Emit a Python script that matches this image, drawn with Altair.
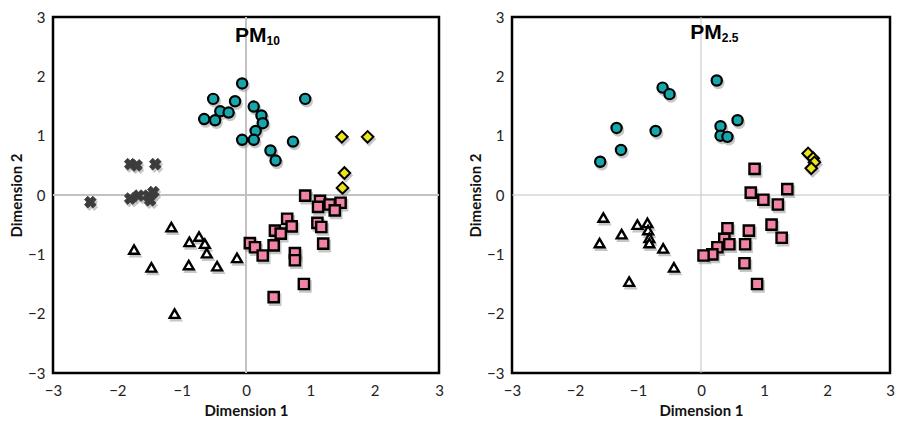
import altair as alt
import pandas as pd

# ---------------- PM10 panel ----------------
pm10_circ_x = [-0.06, -0.51, -0.17, -0.40, -0.27, -0.65, -0.48, 0.12, 0.24, 0.26, 0.15, -0.06, 0.12, 0.38, 0.46, 0.73, 0.92]
pm10_circ_y = [1.88, 1.62, 1.58, 1.41, 1.39, 1.28, 1.26, 1.49, 1.34, 1.21, 1.08, 0.93, 0.93, 0.75, 0.58, 0.90, 1.62]
pm10_diam_x = [1.49, 1.89, 1.53, 1.50]
pm10_diam_y = [0.98, 0.98, 0.37, 0.12]
pm10_cross_x = [-1.80, -1.70, -1.41, -2.42, -1.80, -1.67, -1.52, -1.44, -1.49]
pm10_cross_y = [0.52, 0.50, 0.52, -0.12, -0.06, -0.01, -0.01, 0.05, -0.09]
pm10_tri_x = [-1.16, -1.74, -1.47, -0.88, -0.73, -0.64, -0.61, -0.89, -0.45, -0.14, -1.11]
pm10_tri_y = [-0.54, -0.92, -1.22, -0.79, -0.70, -0.82, -0.98, -1.18, -1.20, -1.06, -2.00]
pm10_sq_x = [0.92, 1.15, 1.30, 1.47, 1.38, 1.12, 1.11, 1.17, 0.64, 0.71, 0.45, 0.54, 0.06, 0.14, 0.26, 0.43, 0.76, 0.76, 1.20, 0.90, 0.43]
pm10_sq_y = [-0.01, -0.10, -0.16, -0.13, -0.26, -0.20, -0.47, -0.54, -0.40, -0.53, -0.60, -0.65, -0.81, -0.88, -1.02, -0.85, -0.98, -1.10, -0.82, -1.50, -1.72]

# ---------------- PM2.5 panel ----------------
pm25_circ_x = [0.25, -0.61, -0.50, -1.34, -0.72, -1.27, -1.60, 0.58, 0.31, 0.31, 0.42]
pm25_circ_y = [1.93, 1.81, 1.70, 1.13, 1.08, 0.76, 0.56, 1.26, 1.16, 1.00, 0.98]
pm25_diam_x = [1.70, 1.78, 1.80, 1.75]
pm25_diam_y = [0.70, 0.62, 0.55, 0.45]
pm25_sq_x = [0.85, 0.79, 0.99, 1.37, 1.22, 1.12, 1.28, 0.42, 0.76, 0.37, 0.45, 0.70, 0.26, 0.18, 0.04, 0.69, 0.89]
pm25_sq_y = [0.44, 0.04, -0.08, 0.10, -0.16, -0.50, -0.72, -0.56, -0.60, -0.74, -0.83, -0.83, -0.88, -1.00, -1.02, -1.15, -1.50]
pm25_tri_x = [-1.55, -1.61, -1.26, -1.01, -0.85, -0.84, -0.82, -0.82, -0.60, -0.43, -1.14]
pm25_tri_y = [-0.38, -0.81, -0.66, -0.50, -0.47, -0.59, -0.72, -0.81, -0.90, -1.22, -1.46]
pm25_cross_x = []
pm25_cross_y = []

tick_values = [-3, -2, -1, 0, 1, 2, 3]

FONT = "Lato"
TEAL = "#17a7ab"
YELLOW = "#ebe51c"
PINK = "#f183a3"
CROSS = "#3c3c3c"


def df(xs, ys):
    return pd.DataFrame({"x": xs, "y": ys})


def panel(groups, main, sub, split_x, base_y, w, h, zero_w):
    xs = alt.Scale(domain=[-3, 3], nice=False, zero=False)
    ys = alt.Scale(domain=[-3, 3], nice=False, zero=False)
    xax = alt.Axis(values=tick_values, title="Dimension 1", grid=False, ticks=False,
                   domain=False, labelFlush=False, labelPadding=10, titlePadding=5,
                   labelFontSize=15, titleFontSize=15, labelFont=FONT, titleFont=FONT,
                   labelColor="#222", titleColor="#111", titleFontWeight="bold")
    yax = alt.Axis(values=tick_values, title="Dimension 2", grid=False, ticks=False,
                   domain=False, labelFlush=False, labelPadding=8, titlePadding=3,
                   labelFontSize=15, titleFontSize=15, labelFont=FONT, titleFont=FONT,
                   labelColor="#222", titleColor="#111", titleFontWeight="bold")
    X = alt.X("x:Q", scale=xs, axis=xax)
    Y = alt.Y("y:Q", scale=ys, axis=yax)

    zero = pd.DataFrame({"x": [0], "y": [0]})
    layers = [
        alt.Chart(zero).mark_rule(color="#c2c2c2", strokeWidth=zero_w).encode(x=X),
        alt.Chart(zero).mark_rule(color="#c2c2c2", strokeWidth=zero_w).encode(y=Y),
    ]
    circ, diam, sq, tri, cross = groups
    styles = [
        (circ, dict(shape="circle", fill=TEAL, stroke="black", strokeWidth=2.2, size=105)),
        (diam, dict(shape="diamond", fill=YELLOW, stroke="black", strokeWidth=2.0, size=135)),
        (sq, dict(shape="square", fill=PINK, stroke="black", strokeWidth=2.4, size=105)),
        (tri, dict(shape="triangle-up", fill="white", stroke="black", strokeWidth=2.4, size=95)),
        (cross, dict(shape="cross", fill=CROSS, stroke=CROSS, strokeWidth=0.8, size=140, angle=45)),
    ]
    for data, st in styles:
        if len(data) == 0:
            continue
        shadow = dict(st)
        shadow.update(fill="#9a9a9a", stroke="#9a9a9a")
        layers.append(alt.Chart(data).mark_point(filled=True, opacity=0.55, xOffset=1.5, yOffset=2.5,
                                                  **shadow).encode(x=X, y=Y))
    for data, st in styles:
        if len(data) == 0:
            continue
        layers.append(alt.Chart(data).mark_point(filled=True, opacity=1, **st).encode(x=X, y=Y))

    layers.append(alt.Chart(zero).mark_text(text=main, align="right", baseline="alphabetic",
                                            font="Liberation Sans", fontWeight="bold", fontSize=21,
                                            color="black")
                  .encode(x=alt.X("x:Q", scale=xs, axis=xax), y=alt.Y("y:Q", scale=ys, axis=yax))
                  .transform_calculate(x=str(split_x), y=str(base_y)))
    layers.append(alt.Chart(zero).mark_text(text=sub, align="left", baseline="alphabetic",
                                            font="Liberation Sans", fontWeight="bold", fontSize=12,
                                            color="black", dy=3)
                  .encode(x=alt.X("x:Q", scale=xs, axis=xax), y=alt.Y("y:Q", scale=ys, axis=yax))
                  .transform_calculate(x=str(split_x), y=str(base_y)))
    return alt.layer(*layers).properties(width=w, height=h)


left = panel([df(pm10_circ_x, pm10_circ_y), df(pm10_diam_x, pm10_diam_y), df(pm10_sq_x, pm10_sq_y),
              df(pm10_tri_x, pm10_tri_y), df(pm10_cross_x, pm10_cross_y)],
             "PM", "10", 0.32, 2.58, 386, 356, 2)
right = panel([df(pm25_circ_x, pm25_circ_y), df(pm25_diam_x, pm25_diam_y), df(pm25_sq_x, pm25_sq_y),
               df(pm25_tri_x, pm25_tri_y), df(pm25_cross_x, pm25_cross_y)],
              "PM", "2.5", 0.33, 2.63, 378, 356, 1)

chart = (alt.hconcat(left, right, spacing=22)
         .properties(padding=0, background="white")
         .configure_view(stroke="black", strokeWidth=2.5)
         .configure_concat(spacing=22))

chart.save("out.html", embed_options={"renderer": "svg", "actions": False})
